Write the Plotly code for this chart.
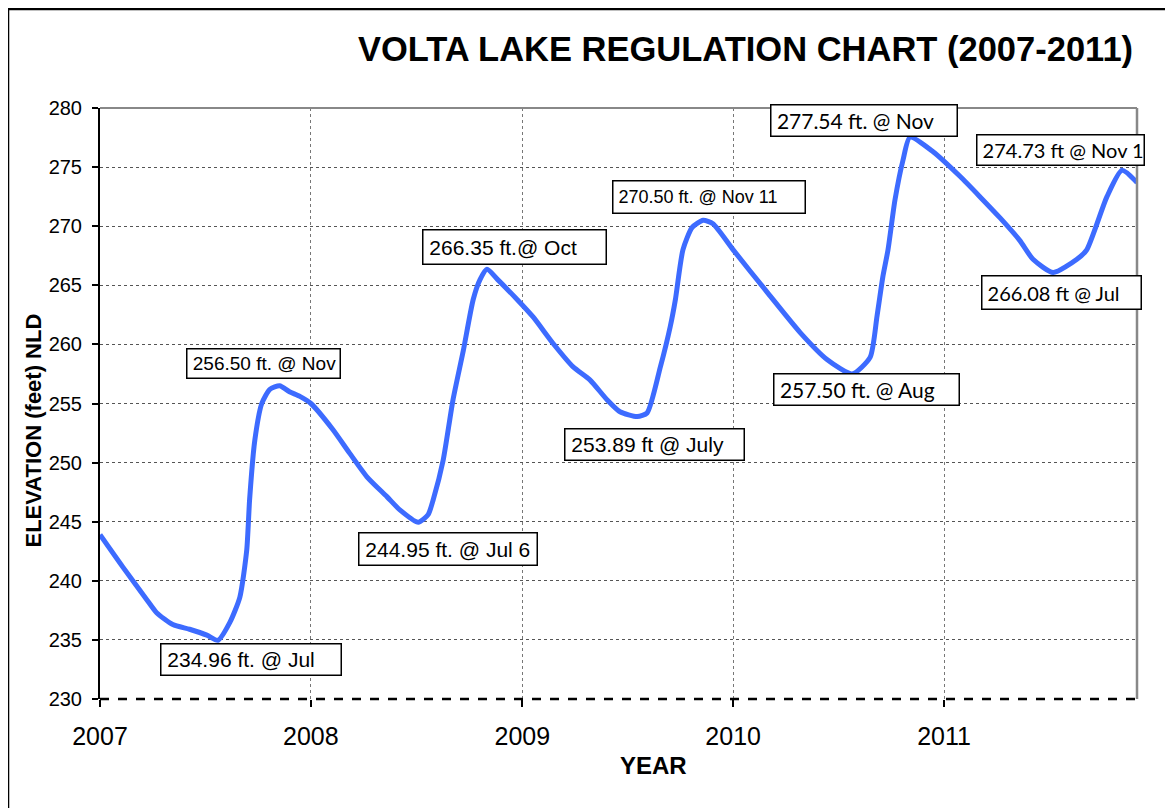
import plotly.graph_objects as go

# ---- data ----
dates = [
    "2007-01-01", "2007-02-09", "2007-03-23", "2007-04-09", "2007-05-07", "2007-06-05",
    "2007-07-05", "2007-07-24", "2007-08-14", "2007-08-31", "2007-09-12", "2007-09-17",
    "2007-09-26", "2007-10-08", "2007-10-22", "2007-11-08", "2007-11-25", "2007-12-13",
    "2008-01-01", "2008-02-08", "2008-03-08", "2008-04-07", "2008-05-12", "2008-06-03",
    "2008-07-05", "2008-07-22", "2008-07-31", "2008-08-17", "2008-09-03", "2008-09-21",
    "2008-10-08", "2008-10-20", "2008-11-01", "2008-11-19", "2008-12-23", "2009-01-20",
    "2009-02-23", "2009-03-30", "2009-04-28", "2009-05-28", "2009-06-19", "2009-07-19",
    "2009-08-05", "2009-08-28", "2009-09-14", "2009-09-23", "2009-10-06", "2009-10-22",
    "2009-11-10", "2009-11-27", "2010-01-01", "2010-03-01", "2010-04-27", "2010-06-13",
    "2010-07-26", "2010-08-26", "2010-09-07", "2010-09-17", "2010-09-26", "2010-10-08",
    "2010-10-22", "2010-11-03", "2010-12-13", "2011-01-29", "2011-03-04", "2011-04-08",
    "2011-05-12", "2011-06-04", "2011-07-09", "2011-08-19", "2011-09-05", "2011-10-10",
    "2011-11-05", "2011-12-01",
]
elevation = [
    243.9, 241.2, 238.4, 237.3, 236.3, 235.9,
    235.4, 234.96, 236.5, 238.6, 242.6, 246.9,
    251.9, 255.0, 256.2, 256.5, 256.0, 255.6,
    255.0, 252.8, 250.8, 248.8, 247.1, 246.0,
    244.95, 245.6, 246.9, 250.2, 255.3, 259.5,
    263.8, 265.5, 266.35, 265.5, 263.8, 262.3,
    260.1, 258.1, 257.0, 255.3, 254.3, 253.89,
    254.2, 258.1, 261.5, 263.8, 268.0, 269.9,
    270.5, 270.2, 268.0, 264.4, 261.0, 258.7,
    257.5, 258.9, 262.4, 265.7, 268.0, 272.2,
    275.6, 277.54, 276.3, 274.2, 272.5, 270.7,
    268.8, 267.2, 266.08, 267.2, 268.0, 272.5,
    274.73, 273.7,
]

label_texts = [
    "234.96 ft. @ Jul", "256.50 ft. @ Nov", "244.95 ft. @ Jul 6", "266.35 ft.@ Oct",
    "253.89 ft @ July", "270.50 ft. @ Nov 11", "277.54 ft. @ Nov", "274.73 ft @ Nov 1",
    "266.08 ft @ Jul", "257.50 ft. @ Aug",
]

year_ticks = ["2007-01-01", "2008-01-01", "2009-01-01", "2010-01-01", "2011-01-01"]
year_labels = ["2007", "2008", "2009", "2010", "2011"]
y_ticks = [230, 235, 240, 245, 250, 255, 260, 265, 270, 275, 280]

title_text = "VOLTA LAKE REGULATION CHART (2007-2011)"
x_title = "YEAR"
y_title = "ELEVATION (feet) NLD"

# ---- layout / style (positions of the label boxes) ----
ARIAL = "Liberation Sans, Arial, sans-serif"
CALIB = "Lato, Open Sans, sans-serif"
label_pos = [  # (x date, y value, box w, box h, font, size)
    ("2007-09-19", 233.37, 182, 33, ARIAL, 21),
    ("2007-10-11", 258.41, 155, 31, ARIAL, 19),
    ("2008-08-25", 242.72, 180, 34, ARIAL, 21),
    ("2008-12-18", 268.27, 185, 36, ARIAL, 21),
    ("2009-08-18", 251.56, 181, 33, ARIAL, 21),
    ("2009-11-20", 272.50, 194, 34, ARIAL, 18),
    ("2010-08-16", 278.93, 188, 33, CALIB, 21),
    ("2011-07-22", 276.43, 169, 32, CALIB, 20),
    ("2011-07-24", 264.42, 161, 35, CALIB, 20),
    ("2010-08-20", 256.17, 187, 33, CALIB, 21),
]

fig = go.Figure()
fig.add_trace(go.Scatter(
    x=dates, y=elevation, mode="lines",
    line=dict(color="#3D6BFF", width=5, shape="spline", smoothing=0.6),
    hoverinfo="x+y", showlegend=False,
))

annotations = []
for txt, (xd, yv, w, h, fnt, sz) in zip(label_texts, label_pos):
    annotations.append(dict(
        x=xd, y=yv, xref="x", yref="y", text="\u00a0" + txt, showarrow=False,
        font=dict(family=fnt, size=sz, color="black"), align="left",
        width=w - 3, height=h - 3, borderpad=0, borderwidth=1.5,
        bordercolor="black", bgcolor="white", xanchor="center", yanchor="middle",
    ))

annotations += [
    dict(x=0.6225, y=1.0998, xref="paper", yref="paper", text="<b>" + title_text + "</b>",
         showarrow=False, font=dict(family=ARIAL, size=34.5, color="black"),
         xanchor="center", yanchor="middle"),
    dict(x=0.5333, y=-0.1117, xref="paper", yref="paper", text="<b>" + x_title + "</b>",
         showarrow=False, font=dict(family=ARIAL, size=24, color="black"),
         xanchor="center", yanchor="middle"),
    dict(x=-0.0641, y=0.4535, xref="paper", yref="paper", text="<b>" + y_title + "</b>",
         showarrow=False, textangle=-90, font=dict(family=ARIAL, size=22, color="black"),
         xanchor="center", yanchor="middle"),
]

shapes = [
    # outer chart frame (runs off the picture on right/bottom)
    dict(type="rect", xref="paper", yref="paper", x0=-0.0887, x1=1.3, y0=-0.5, y1=1.1675,
         line=dict(color="black", width=2.5), layer="below"),
    # plot area top & right borders
    dict(type="line", xref="paper", yref="paper", x0=0, x1=1, y0=1, y1=1,
         line=dict(color="#888888", width=2)),
    dict(type="line", xref="paper", yref="paper", x0=1, x1=1, y0=0, y1=1,
         line=dict(color="#888888", width=2.5)),
    # dashed bottom line at 230
    dict(type="line", xref="paper", yref="paper", x0=0, x1=1, y0=0, y1=0,
         line=dict(color="black", width=2.5, dash="dash")),
]

fig.update_layout(
    width=1173, height=808,
    margin=dict(l=92, r=44, t=100, b=117),
    paper_bgcolor="white", plot_bgcolor="white",
    font=dict(family=ARIAL, color="black"),
    annotations=annotations, shapes=shapes,
    xaxis=dict(
        type="date", range=["2007-01-01", "2011-12-01"],
        tickvals=year_ticks, ticktext=year_labels,
        showgrid=True, gridcolor="#777777", griddash="dot", gridwidth=1,
        ticks="outside", ticklen=7, tickwidth=2, tickcolor="black",
        tickfont=dict(family=ARIAL, size=25, color="black"),
        ticklabelstandoff=8,
        showline=False, zeroline=False,
    ),
    yaxis=dict(
        range=[230, 280], tickvals=y_ticks,
        showgrid=True, gridcolor="#555555", griddash="dot", gridwidth=1,
        ticks="outside", ticklen=6, tickwidth=2, tickcolor="black",
        tickfont=dict(family=ARIAL, size=20, color="black"),
        ticklabelstandoff=6,
        showline=True, linecolor="black", linewidth=2, zeroline=False,
    ),
)

fig.write_html("out.html")
